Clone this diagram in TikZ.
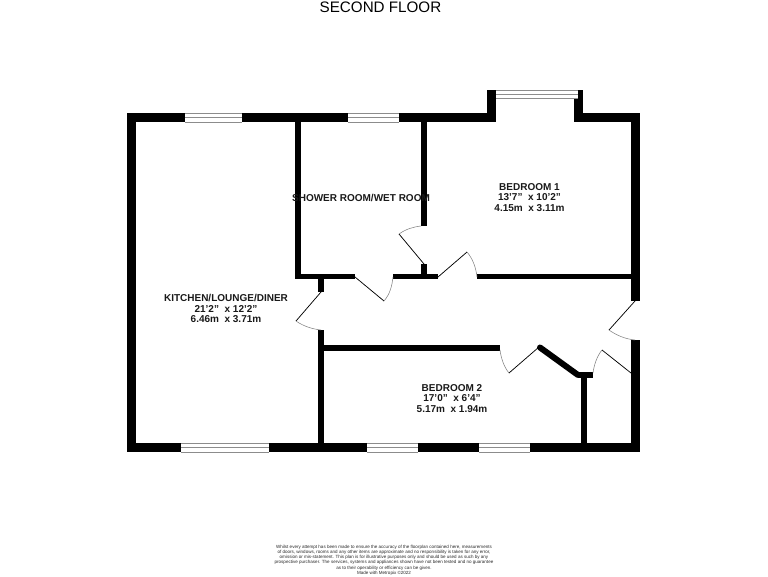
\documentclass[tikz,border=0pt]{standalone}
\usepackage{fontspec}
\setmainfont{Liberation Sans}
\tikzset{
  wall/.style={fill=black,draw=none},
  door/.style={draw=black,line width=0.55pt},
  swing/.style={draw=black!50,line width=0.4pt},
  lbl/.style={font=\bfseries\fontsize{7.5}{8.1}\selectfont,align=center,text=black!90,inner sep=0pt},
}
\newcommand{\win}[4]{%
  \fill[white] (#1,#2) rectangle (#3,#4);
  \draw[black!45,line width=0.45pt] (#1,#2) -- (#3,#2) (#1,{(#2+#4)/2}) -- (#3,{(#2+#4)/2}) (#1,#4) -- (#3,#4);
}
\begin{document}
\begin{tikzpicture}[x=0.75pt,y=-0.75pt]
\useasboundingbox (0,0) rectangle (768,576);
\node[font=\fontsize{11.4}{13}\selectfont,inner sep=0pt] (title) at (380.5,7.5) {SECOND FLOOR};
% outer walls
\fill[wall] (127,113) rectangle (640,122);
\fill[wall] (127,113) rectangle (136,452);
\fill[wall] (127,443) rectangle (640,452);
\fill[wall] (631,113) rectangle (640,301);
\fill[wall] (631,340) rectangle (640,452);
% bay
\fill[wall] (487,90) rectangle (496,122);
\fill[wall] (578,90) rectangle (583,122);
\fill[wall] (574,99) rectangle (583,122);
\fill[white] (496,113) rectangle (574,122);
% windows
\win{185}{113}{242}{122}
\win{348}{113}{399}{122}
\win{496}{90.5}{578}{98.5}
\win{181}{443}{269}{452}
\win{367}{443}{418}{452}
\win{479}{443}{530}{452}
% partitions
\fill[wall] (295,122) rectangle (301,279);
\fill[wall] (421,122) rectangle (427,226);
\fill[wall] (421,264) rectangle (427,279);
\fill[wall] (295,274) rectangle (355,279);
\fill[wall] (393,274) rectangle (438,279);
\fill[wall] (477,274) rectangle (631,279);
\fill[wall] (318,279) rectangle (324,292);
\fill[wall] (318,330) rectangle (324,443);
\fill[wall] (324,345) rectangle (500,351);
\fill[wall] (578,372) rectangle (593,378);
\fill[wall] (581,378) rectangle (587,443);
\draw[line width=4.5pt,line cap=round,black] (540,347.5) -- (578,375);
% doors
\draw[door] (424,264) -- (399,234);
\draw[swing] (399,234) .. controls (406,229) and (413,227) .. (421,226);
\draw[door] (355,277) -- (384,301);
\draw[swing] (384,301) .. controls (390,294) and (392,286) .. (393,277);
\draw[door] (438,277) -- (467,252);
\draw[swing] (467,252) .. controls (473,259) and (476,268) .. (477,277);
\draw[door] (321,292) -- (296,321);
\draw[swing] (296,321) .. controls (303,326) and (312,329) .. (321,330);
\draw[door] (635,301) -- (609,330);
\draw[swing] (609,330) .. controls (616,335) and (625,339) .. (635,340);
\draw[door] (631,373) -- (602,350);
\draw[swing] (602,350) .. controls (597,356) and (594,365) .. (593,373);
\draw[door] (539,347) -- (509,373);
\draw[swing] (509,373) .. controls (504,367) and (501,358) .. (500,350);
% labels
\node[lbl] (kitchen) at (226,308.5) {KITCHEN/LOUNGE/DINER\\21'2"\ \ x 12'2"\\6.46m\ \ x 3.71m};
\node[lbl] (shower) at (361,197.5) {SHOWER ROOM/WET ROOM};
\node[lbl] (bed1) at (529.5,197.5) {BEDROOM 1\\13'7"\ \ x 10'2"\\4.15m\ \ x 3.11m};
\node[lbl] (bed2) at (452,398.5) {BEDROOM 2\\17'0"\ \ x 6'4"\\5.17m\ \ x 1.94m};
\node[font=\fontsize{3.4}{3.95}\selectfont,align=center,inner sep=0pt,text=black!85] (note) at (384,560) {Whilst every attempt has been made to ensure the accuracy of the floorplan contained here, measurements\\of doors, windows, rooms and any other items are approximate and no responsibility is taken for any error,\\omission or mis-statement. This plan is for illustrative purposes only and should be used as such by any\\prospective purchaser. The services, systems and appliances shown have not been tested and no guarantee\\as to their operability or efficiency can be given.\\Made with Metropix ©2022};
\end{tikzpicture}
\end{document}
